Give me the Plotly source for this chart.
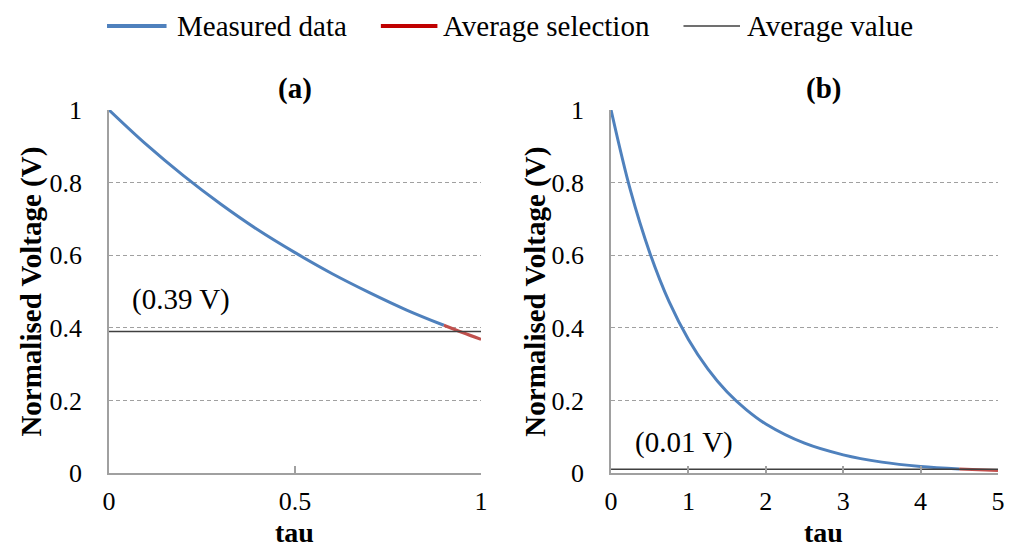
import plotly.graph_objects as go

# Panel (a): normalised voltage vs tau (0..1)
tau_a = [0.0, 0.1, 0.2, 0.3, 0.4, 0.5, 0.6, 0.7, 0.8, 0.9]
volt_a = [1.0, 0.905, 0.819, 0.741, 0.670, 0.607, 0.549, 0.497, 0.449, 0.407]
sel_tau_a = [0.9, 0.95, 1.0]
sel_volt_a = [0.407, 0.387, 0.368]
avg_a = 0.39

# Panel (b): normalised voltage vs tau (0..5)
tau_b = [0.0, 0.25, 0.5, 0.75, 1.0, 1.25, 1.5, 1.75, 2.0, 2.5, 3.0, 3.5, 4.0, 4.5]
volt_b = [1.0, 0.779, 0.607, 0.472, 0.368, 0.287, 0.223, 0.174, 0.135, 0.082, 0.050, 0.030, 0.018, 0.011]
sel_tau_b = [4.5, 4.75, 5.0]
sel_volt_b = [0.011, 0.0087, 0.0067]
avg_b = 0.01

y_ticks = [0, 0.2, 0.4, 0.6, 0.8, 1]
y_ticktext = ["0", "0.2", "0.4", "0.6", "0.8", "1"]
x_ticks_a = [0, 0.5, 1]
x_ticktext_a = ["0", "0.5", "1"]
x_ticks_b = [0, 1, 2, 3, 4, 5]
x_ticktext_b = ["0", "1", "2", "3", "4", "5"]

legend_names = ["Measured data", "Average selection", "Average value"]

BLUE = "#4F81BD"
RED_PLOT = "#C0504D"
RED_LEG = "#C00000"
AVG = "#404040"
AXIS = "#A0A0A0"
FONT = "'Times New Roman', 'Liberation Serif', serif"

# Figure geometry (page has an 8px body margin)
W, H = 1006, 539
ML, MR, MT, MB = 101, 9, 102, 74
PW = W - ML - MR
PH = H - MT - MB

def px(fx):
    return (fx - ML) / PW

def py(fy):
    return (H - MB - fy) / PH

fig = go.Figure()

def add_panel(xa, ya, tx, vy, stx, svy, avg, xmax):
    fig.add_trace(go.Scatter(x=tx + [stx[0]], y=vy + [svy[0]], mode="lines",
                             line=dict(color=BLUE, width=3, shape="spline"),
                             xaxis=xa, yaxis=ya, name=legend_names[0], showlegend=False, hoverinfo="skip"))
    fig.add_trace(go.Scatter(x=stx, y=svy, mode="lines",
                             line=dict(color=RED_PLOT, width=3, shape="spline"),
                             xaxis=xa, yaxis=ya, name=legend_names[1], showlegend=False, hoverinfo="skip"))
    fig.add_trace(go.Scatter(x=[0, xmax], y=[avg, avg], mode="lines",
                             line=dict(color=AVG, width=1.5),
                             xaxis=xa, yaxis=ya, name=legend_names[2], showlegend=False, hoverinfo="skip"))

add_panel("x", "y", tau_a, volt_a, sel_tau_a, sel_volt_a, avg_a, 1)
add_panel("x2", "y2", tau_b, volt_b, sel_tau_b, sel_volt_b, avg_b, 5)

axis_common = dict(showline=True, linecolor=AXIS, linewidth=1.5, zeroline=False,
                   tickfont=dict(family=FONT, size=26, color="black"))

xa_common = dict(ticks="inside", ticklen=7, tickcolor=AXIS, tickwidth=1.5, showgrid=False,
                 ticklabelstandoff=4, **axis_common)
ya_common = dict(domain=[0, 1], range=[0, 1.0], tickvals=y_ticks, ticktext=y_ticktext,
                 showgrid=True, gridcolor=AXIS, griddash="4px,3px", gridwidth=1, ticks="",
                 ticklabelstandoff=20, **axis_common)

fig.update_layout(
    width=W, height=H,
    margin=dict(l=ML, r=MR, t=MT, b=MB),
    paper_bgcolor="white", plot_bgcolor="white",
    font=dict(family=FONT, color="black"),
    showlegend=False,
    xaxis=dict(domain=[0, px(476)], range=[0, 1], tickvals=x_ticks_a, ticktext=x_ticktext_a,
               anchor="y", **xa_common),
    yaxis=dict(anchor="x", **ya_common),
    xaxis2=dict(domain=[px(607), 1], range=[0, 5], tickvals=x_ticks_b, ticktext=x_ticktext_b,
                anchor="y2", **xa_common),
    yaxis2=dict(anchor="x2", **ya_common),
)

ann = []
shapes = []
# subplot titles
for txt, sx in [("<b>(a)</b>", 296), ("<b>(b)</b>", 829)]:
    ann.append(dict(text=txt, x=px(sx - 8), y=py(88 - 8), xref="paper", yref="paper",
                    showarrow=False, font=dict(family=FONT, size=29),
                    xanchor="center", yanchor="middle"))
# x axis titles
for sx in [296, 829]:
    ann.append(dict(text="<b>tau</b>", x=px(sx - 8), y=py(532 - 8), xref="paper", yref="paper",
                    showarrow=False, font=dict(family=FONT, size=28),
                    xanchor="center", yanchor="middle"))
# y axis titles
for sx in [30, 538]:
    ann.append(dict(text="<b>Normalised Voltage (V)</b>", textangle=-90,
                    x=px(sx - 8), y=py(292 - 8), xref="paper", yref="paper",
                    showarrow=False, font=dict(family=FONT, size=29),
                    xanchor="center", yanchor="middle"))
# average labels
ann.append(dict(text="(0.39 V)", x=0.056, y=0.477, xref="x", yref="y", showarrow=False,
                font=dict(family=FONT, size=29), xanchor="left", yanchor="middle"))
ann.append(dict(text="(0.01 V)", x=0.28, y=0.083, xref="x2", yref="y2", showarrow=False,
                font=dict(family=FONT, size=29), xanchor="left", yanchor="middle"))

# legend (top, horizontal)
leg_y = py(26 - 8)
for name, col, w, x0, x1, tx in [
    (legend_names[0], BLUE, 4, 107, 167, 176),
    (legend_names[1], RED_LEG, 4, 383, 440, 444),
    (legend_names[2], AVG, 1.5, 688, 745, 750),
]:
    shapes.append(dict(type="line", xref="paper", yref="paper",
                       x0=px(x0 - 8), x1=px(x1 - 8), y0=leg_y, y1=leg_y,
                       line=dict(color=col, width=w)))
    ann.append(dict(text=name, x=px(tx - 8), y=leg_y, xref="paper", yref="paper",
                    showarrow=False, font=dict(family=FONT, size=29),
                    xanchor="left", yanchor="middle"))

fig.update_layout(annotations=ann, shapes=shapes)

fig.write_html("out.html")
